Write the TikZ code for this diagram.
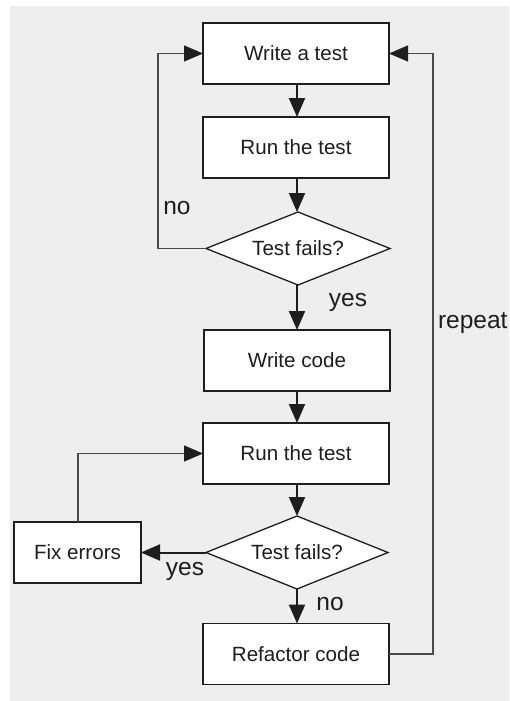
\documentclass[tikz,border=0pt]{standalone}
\usepackage{fontspec}
\setmainfont{Liberation Sans}
\usetikzlibrary{shapes.geometric,arrows.meta}
\definecolor{bgcol}{HTML}{EEEEEE}
\definecolor{ink}{HTML}{1E1E1E}
\definecolor{thin}{HTML}{4A4A4A}
\begin{document}
\begin{tikzpicture}[x=1pt,y=-1pt,
  stepbox/.style={draw=ink,line width=1.8pt,fill=white,rectangle,minimum width=186pt,minimum height=61pt,inner sep=0pt,outer sep=0pt,font=\fontsize{20.6}{24}\selectfont,text=ink},
  decide/.style={draw=ink,line width=1.3pt,fill=white,diamond,shape aspect=2.52,minimum width=184pt,minimum height=73pt,inner sep=0pt,outer sep=0pt,font=\fontsize{20.6}{24}\selectfont,text=ink},
  mainarrow/.style={draw=ink,line width=2pt,-{Triangle[length=19pt,width=16pt]}},
  looparrow/.style={draw=thin,line width=1.4pt,-{Triangle[length=19pt,width=16pt,fill=ink,color=ink]}},
  lbl/.style={font=\fontsize{24.5}{28}\selectfont,text=ink,inner sep=0pt,outer sep=0pt}
]
\useasboundingbox (0,0) rectangle (509,701);
\fill[white] (0,0) rectangle (509,701);
\fill[bgcol] (10,6) rectangle (509,701);

\node[stepbox] (w1) at (296,53.5) {Write a test};
\node[stepbox] (r1) at (296,147.5) {Run the test};
\node[decide] (d1) at (298,248.5) {Test fails?};
\node[stepbox] (wc) at (297,360.5) {Write code};
\node[stepbox] (r2) at (296,453.5) {Run the test};
\node[decide,minimum width=182pt] (d2) at (297,552.5) {Test fails?};
\node[stepbox,minimum width=127pt] (fx) at (77.5,552.5) {Fix errors};
\node[stepbox] (rf) at (296,654) {Refactor code};

\draw[mainarrow] (w1.south -| 297,0) -- (r1.north -| 297,0);
\draw[mainarrow] (r1.south -| 297,0) -- (d1.north -| 297,0);
\draw[mainarrow] (d1.south -| 297,0) -- (wc.north -| 297,0);
\draw[mainarrow] (wc.south -| 297,0) -- (r2.north -| 297,0);
\draw[mainarrow] (r2.south -| 297,0) -- (d2.north -| 297,0);
\draw[mainarrow] (d2.south) -- (rf.north -| d2.south);
\draw[mainarrow] (d2.west) -- (fx.east);

\coordinate (nocorner1) at (158,248.5);
\coordinate (nocorner2) at (158,53.5);
\draw[looparrow] (d1.west) -- (nocorner1) -- (nocorner2) -- (w1.west);

\coordinate (rpcorner1) at (433,654);
\coordinate (rpcorner2) at (433,53.5);
\draw[looparrow] (rf.east) -- (rpcorner1) -- (rpcorner2) -- (w1.east);

\coordinate (fxcorner) at (78,453.5);
\draw[looparrow] (fx.north -| fxcorner) -- (fxcorner) -- (r2.west);

\node[lbl,anchor=base] (lno1) at (177,214) {no};
\node[lbl,anchor=base] (lyes1) at (348,306) {yes};
\node[lbl,anchor=base west] (lrep) at (438,328) {repeat};
\node[lbl,anchor=base] (lyes2) at (185,575) {yes};
\node[lbl,anchor=base] (lno2) at (330,610) {no};
\end{tikzpicture}
\end{document}
